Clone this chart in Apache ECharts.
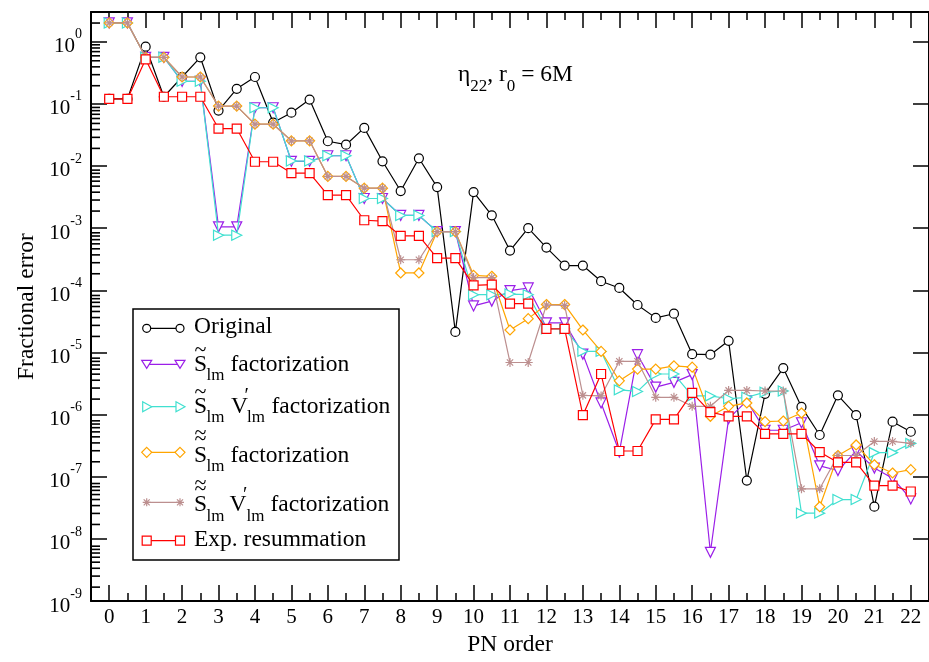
<!DOCTYPE html>
<html>
<head>
<meta charset="utf-8">
<script src="https://cdn.jsdelivr.net/npm/echarts@6/dist/echarts.min.js"></script>
<style>
  html, body { margin: 0; padding: 0; background: #fff; }
  #chart { width: 929px; height: 662px; }
</style>
</head>
<body>
<div id="chart"></div>
<script>
// PN order of each truncation (x values)
const pnOrder = [0, 0.5, 1, 1.5, 2, 2.5, 3, 3.5, 4, 4.5, 5, 5.5, 6, 6.5, 7, 7.5, 8, 8.5, 9, 9.5,
  10, 10.5, 11, 11.5, 12, 12.5, 13, 13.5, 14, 14.5, 15, 15.5, 16, 16.5, 17, 17.5, 18, 18.5,
  19, 19.5, 20, 20.5, 21, 21.5, 22];

// Fractional error of eta_22 at r0 = 6M for each resummation scheme
const original = [0.12, 0.12, 0.83, 0.13, 0.27, 0.56, 0.078, 0.174, 0.27, 0.05, 0.072, 0.117,
  0.025, 0.022, 0.041, 0.0119, 0.00395, 0.0133, 0.00458, 2.14e-5, 0.0038, 0.00161, 4.36e-4,
  1.0e-3, 4.86e-4, 2.5e-4, 2.5e-4, 1.4e-4, 1.09e-4, 5.8e-5, 3.6e-5, 4.2e-5, 9.4e-6, 9.2e-6,
  1.54e-5, 8.7e-8, 2.16e-6, 5.6e-6, 1.33e-6, 4.7e-7, 2.04e-6, 9.8e-7, 3.3e-8, 7.7e-7, 5.3e-7];

const sTilde = [2, 2, 0.56, 0.56, 0.23, 0.23, 1.05e-3, 1.05e-3, 0.0865, 0.0865, 0.0119, 0.0119,
  0.0146, 0.0146, 0.003, 0.003, 0.0016, 0.0016, 8.8e-4, 8.8e-4, 5.6e-5, 6.7e-5, 9.9e-5, 1.09e-4,
  3.0e-5, 3.0e-5, 9.4e-6, 1.54e-6, 2.5e-7, 9.2e-6, 2.77e-6, 3.3e-6, 4.4e-6, 6.1e-9, 8.6e-7,
  1.66e-6, 5.6e-7, 5.6e-7, 7.4e-7, 1.5e-7, 1.26e-7, 2.6e-7, 1.38e-7, 9.5e-8, 4.4e-8];

const sTildeV = [2, 2, 0.56, 0.56, 0.23, 0.23, 7.7e-4, 7.7e-4, 0.0865, 0.0865, 0.012, 0.012,
  0.0146, 0.0146, 0.003, 0.003, 0.0016, 0.0016, 8.8e-4, 8.8e-4, 8.5e-5, 8.5e-5, 8.7e-5, 8.5e-5,
  2.4e-5, 2.4e-5, 1.04e-5, 1.04e-5, 2.5e-6, 2.36e-6, 4.5e-6, 4.5e-6, 2.0e-6, 2.0e-6, 1.8e-6,
  1.9e-6, 2.3e-6, 2.4e-6, 2.6e-8, 2.6e-8, 4.3e-8, 4.3e-8, 2.45e-7, 2.45e-7, 3.45e-7];

const sDoubleTilde = [2, 2, 0.56, 0.56, 0.27, 0.27, 0.092, 0.092, 0.047, 0.047, 0.0254, 0.0254,
  0.0068, 0.0068, 0.0044, 0.0044, 1.9e-4, 1.9e-4, 8.8e-4, 8.8e-4, 1.74e-4, 1.68e-4, 2.3e-5,
  3.5e-5, 5.9e-5, 5.9e-5, 2.3e-5, 1.04e-5, 3.5e-6, 5.4e-6, 5.4e-6, 6.1e-6, 5.8e-6, 9.4e-7,
  1.36e-6, 1.54e-6, 7.7e-7, 7.9e-7, 1.06e-6, 3.3e-8, 2.2e-7, 3.25e-7, 1.56e-7, 1.15e-7, 1.3e-7];

const sDoubleTildeV = [2, 2, 0.56, 0.56, 0.27, 0.27, 0.092, 0.092, 0.047, 0.047, 0.0254, 0.0254,
  0.0068, 0.0068, 0.0044, 0.0044, 3.1e-4, 3.1e-4, 8.8e-4, 8.8e-4, 1.6e-4, 1.6e-4, 6.9e-6, 6.9e-6,
  5.8e-5, 5.7e-5, 2.04e-6, 2.0e-6, 7.2e-6, 7.2e-6, 1.9e-6, 1.9e-6, 1.36e-6, 1.36e-6, 2.45e-6,
  2.45e-6, 2.4e-6, 2.4e-6, 6.4e-8, 6.4e-8, 2.2e-7, 2.2e-7, 3.7e-7, 3.7e-7, 3.45e-7];

const expResummation = [0.12, 0.12, 0.52, 0.13, 0.13, 0.13, 0.04, 0.04, 0.0117, 0.0117, 0.0077,
  0.0077, 0.0034, 0.0034, 0.00134, 0.0013, 7.5e-4, 7.5e-4, 3.3e-4, 3.3e-4, 1.2e-4, 1.23e-4,
  6.1e-5, 6.1e-5, 2.4e-5, 2.4e-5, 9.8e-7, 4.5e-6, 2.6e-7, 2.6e-7, 8.4e-7, 8.4e-7, 2.24e-6,
  1.1e-6, 9.4e-7, 9.4e-7, 4.9e-7, 4.9e-7, 4.9e-7, 2.5e-7, 1.7e-7, 1.7e-7, 7.2e-8, 7.2e-8, 5.8e-8];

// Tick positions
const majorXTicks = [0, 1, 2, 3, 4, 5, 6, 7, 8, 9, 10, 11, 12, 13, 14, 15, 16, 17, 18, 19, 20, 21, 22];
const minorXTicks = [0.5, 1.5, 2.5, 3.5, 4.5, 5.5, 6.5, 7.5, 8.5, 9.5, 10.5, 11.5, 12.5, 13.5,
  14.5, 15.5, 16.5, 17.5, 18.5, 19.5, 20.5, 21.5];
const decadeExponents = [-9, -8, -7, -6, -5, -4, -3, -2, -1, 0];
const minorMultipliers = [2, 3, 4, 5, 6, 7, 8, 9];

const Y_MIN = 1e-9, Y_MAX = 3;
const X_MIN = -0.5, X_MAX = 22.5;
const GRID = { left: 91, top: 12, width: 850, height: 594 };
const FONT = '"Liberation Serif", "Times New Roman", serif';

const ASTERISK = 'path://M5,0L5,10M0,5L10,5M1.5,1.5L8.5,8.5M1.5,8.5L8.5,1.5';

const seriesDefs = [
  { name: 'Original', data: original, color: '#000000', symbol: 'circle', size: 9, rotate: 0, fill: '#fff' },
  { name: 'S_lm factorization', data: sTilde, color: '#9b1fe8', symbol: 'triangle', size: 10, rotate: 180, fill: '#fff' },
  { name: 'S_lm V_lm factorization', data: sTildeV, color: '#40e0d0', symbol: 'triangle', size: 10, rotate: -90, fill: '#fff' },
  { name: 'SS_lm factorization', data: sDoubleTilde, color: '#ffa500', symbol: 'diamond', size: 10, rotate: 0, fill: '#fff' },
  { name: 'SS_lm V_lm factorization', data: sDoubleTildeV, color: '#bc8f8f', symbol: ASTERISK, size: 9, rotate: 0, fill: '#bc8f8f' },
  { name: 'Exp. resummation', data: expResummation, color: '#ff0000', symbol: 'rect', size: 9, rotate: 0, fill: '#fff' }
];

const series = seriesDefs.map((d, k) => ({
  name: d.name,
  type: 'line',
  xAxisIndex: 0,
  yAxisIndex: 0,
  data: pnOrder.map((x, i) => [x, d.data[i]]),
  symbol: d.symbol,
  symbolSize: d.size,
  symbolRotate: d.rotate,
  showAllSymbol: true,
  z: 2 + k,
  lineStyle: { color: d.color, width: 1.2 },
  itemStyle: { color: d.fill, borderColor: d.color, borderWidth: 1.2 },
  emphasis: { disabled: true },
  animation: false
}));

// ---- legend drawn as graphics ----
function marker(kind, cx, cy, color) {
  const st = { fill: '#fff', stroke: color, lineWidth: 1.2 };
  switch (kind) {
    case 'circle': return { type: 'circle', shape: { cx, cy, r: 4 }, style: st };
    case 'down': return { type: 'polygon', shape: { points: [[cx - 5, cy - 4], [cx + 5, cy - 4], [cx, cy + 4]] }, style: st };
    case 'right': return { type: 'polygon', shape: { points: [[cx - 4, cy - 5], [cx - 4, cy + 5], [cx + 5, cy]] }, style: st };
    case 'diamond': return { type: 'polygon', shape: { points: [[cx, cy - 5], [cx + 5, cy], [cx, cy + 5], [cx - 5, cy]] }, style: st };
    case 'rect': return { type: 'rect', shape: { x: cx - 4.5, y: cy - 4.5, width: 9, height: 9 }, style: st };
    case 'star': return {
      type: 'polyline',
      shape: { points: [[cx - 4, cy], [cx + 4, cy], [cx, cy], [cx, cy - 4], [cx, cy + 4], [cx, cy],
        [cx - 3, cy - 3], [cx + 3, cy + 3], [cx, cy], [cx - 3, cy + 3], [cx + 3, cy - 3]] },
      style: { stroke: color, lineWidth: 1.2, fill: null }
    };
  }
}
function txt(t, x, y, size) {
  return {
    type: 'text', x, y, z: 20,
    style: { text: t, fontFamily: FONT, fontSize: size, fill: '#000', align: 'left', verticalAlign: 'middle' }
  };
}
const BIG = 23.5, SUB = 17, TIL = 22, PRIME = 20;
const legendRows = [
  { y: 328.3, kind: 'circle', color: '#000000',
    texts: [['Original', 194, 327, BIG]] },
  { y: 364.3, kind: 'down', color: '#9b1fe8',
    texts: [['~', 194.5, 350, TIL], ['S', 194, 364.7, BIG], ['lm', 206.5, 376, SUB], ['factorization', 230.5, 364.7, BIG]] },
  { y: 406.7, kind: 'right', color: '#40e0d0',
    texts: [['~', 194.5, 392, TIL], ['S', 194, 406.5, BIG], ['lm', 206.5, 418, SUB], ['V', 231, 406.5, BIG], ['\u2032', 244.5, 397, PRIME], ['lm', 247, 418, SUB], ['factorization', 271.5, 406.5, BIG]] },
  { y: 452.3, kind: 'diamond', color: '#ffa500',
    texts: [['~', 194.5, 433, TIL], ['~', 194.5, 439.5, TIL], ['S', 194, 455.6, BIG], ['lm', 206.5, 467, SUB], ['factorization', 230.5, 455.6, BIG]] },
  { y: 502.3, kind: 'star', color: '#bc8f8f',
    texts: [['~', 194.5, 483, TIL], ['~', 194.5, 489.5, TIL], ['S', 194, 505, BIG], ['lm', 206.5, 516.5, SUB], ['V', 229.5, 505, BIG], ['\u2032', 243, 495.5, PRIME], ['lm', 246.5, 516.5, SUB], ['factorization', 270.5, 505, BIG]] },
  { y: 540.7, kind: 'rect', color: '#ff0000',
    texts: [['Exp. resummation', 194, 540, BIG]] }
];
const graphicEls = [{
  type: 'rect', z: 10,
  shape: { x: 133, y: 309, width: 266, height: 251 },
  style: { fill: '#fff', stroke: '#000', lineWidth: 1.5 }
}];
legendRows.forEach(r => {
  graphicEls.push({ type: 'line', z: 11, shape: { x1: 146.7, y1: r.y, x2: 180, y2: r.y }, style: { stroke: r.color, lineWidth: 1.2 } });
  [146.7, 180].forEach(cx => { const m = marker(r.kind, cx, r.y, r.color); m.z = 12; graphicEls.push(m); });
  r.texts.forEach(t => graphicEls.push(txt(t[0], t[1], t[2], t[3])));
});

// annotation: eta_22, r0 = 6M
graphicEls.push({
  type: 'text', x: 458, y: 75, z: 20,
  style: {
    text: '{b|\u03b7}{s|22}{b|, r}{s|0}{b| = 6M}',
    verticalAlign: 'middle', align: 'left',
    rich: {
      b: { fontFamily: FONT, fontSize: 23.5, lineHeight: 40, fill: '#000' },
      s: { fontFamily: FONT, fontSize: 17, verticalAlign: 'bottom', fill: '#000' }
    }
  }
});

// minor log ticks (2..9 x 10^n) along the left frame
const logSpan = Math.log10(Y_MAX) - Math.log10(Y_MIN);
decadeExponents.forEach(e => minorMultipliers.forEach(m => {
  const v = m * Math.pow(10, e);
  if (v >= Y_MAX) return;
  const py = GRID.top + GRID.height * (Math.log10(Y_MAX) - Math.log10(v)) / logSpan;
  graphicEls.push({
    type: 'line', z: 30, silent: true,
    shape: { x1: GRID.left, y1: py, x2: GRID.left + 9, y2: py },
    style: { stroke: '#000', lineWidth: 1.6 }
  });
}));

const tickLine = { color: '#000', width: 1.5 };
const baseX = { type: 'value', min: X_MIN, max: X_MAX, splitLine: { show: false }, axisPointer: { show: false } };
const chart = echarts.init(document.getElementById('chart'), null, { renderer: 'canvas' });
chart.setOption({
  backgroundColor: '#fff',
  animation: false,
  grid: Object.assign({ containLabel: false }, GRID),
  xAxis: [
    Object.assign({}, baseX, {
      position: 'bottom',
      axisLine: { show: true, onZero: false, lineStyle: { color: '#000', width: 2 } },
      axisTick: { show: true, inside: true, length: 16, customValues: majorXTicks, lineStyle: tickLine },
      axisLabel: { show: true, customValues: majorXTicks, margin: 6, fontFamily: FONT, fontSize: 21, color: '#000' },
      name: 'PN order', nameLocation: 'middle', nameGap: 30,
      nameTextStyle: { fontFamily: FONT, fontSize: 23.5, color: '#000' }
    }),
    Object.assign({}, baseX, {
      position: 'bottom',
      axisLine: { show: false, onZero: false },
      axisTick: { show: true, inside: true, length: 8, customValues: minorXTicks, lineStyle: tickLine },
      axisLabel: { show: false }
    }),
    Object.assign({}, baseX, {
      position: 'top',
      axisLine: { show: true, onZero: false, lineStyle: { color: '#000', width: 2 } },
      axisTick: { show: true, inside: true, length: 16, customValues: majorXTicks, lineStyle: tickLine },
      axisLabel: { show: false }
    }),
    Object.assign({}, baseX, {
      position: 'top',
      axisLine: { show: false, onZero: false },
      axisTick: { show: true, inside: true, length: 8, customValues: minorXTicks, lineStyle: tickLine },
      axisLabel: { show: false }
    })
  ],
  yAxis: [
    {
      type: 'log', logBase: 10, min: Y_MIN, max: Y_MAX, interval: 1,
      position: 'left',
      axisLine: { show: true, onZero: false, lineStyle: { color: '#000', width: 2 } },
      axisTick: { show: true, inside: true, length: 16, lineStyle: tickLine },
      axisLabel: {
        show: true, margin: 9, showMaxLabel: false,
        formatter: v => {
          const e = Math.log10(v), r = Math.round(e);
          if (Math.abs(e - r) > 1e-6) return '';
          return '{b|10}{s|' + r + '}';
        },
        rich: {
          b: { fontFamily: FONT, fontSize: 21, color: '#000', lineHeight: 32, height: 22, verticalAlign: 'bottom' },
          s: { fontFamily: FONT, fontSize: 14, color: '#000', height: 18, verticalAlign: 'top' }
        }
      },
      splitLine: { show: false },
      name: 'Fractional error', nameLocation: 'middle', nameGap: 50,
      nameTextStyle: { fontFamily: FONT, fontSize: 23.5, color: '#000' }
    },
    {
      type: 'log', logBase: 10, min: Y_MIN, max: Y_MAX, interval: 1, position: 'right',
      axisLine: { show: true, onZero: false, lineStyle: { color: '#000', width: 2 } },
      axisTick: { show: true, inside: true, length: 16, lineStyle: tickLine },
      axisLabel: { show: false }, splitLine: { show: false }
    }
  ],
  graphic: graphicEls,
  series: series
});
</script>
</body>
</html>
